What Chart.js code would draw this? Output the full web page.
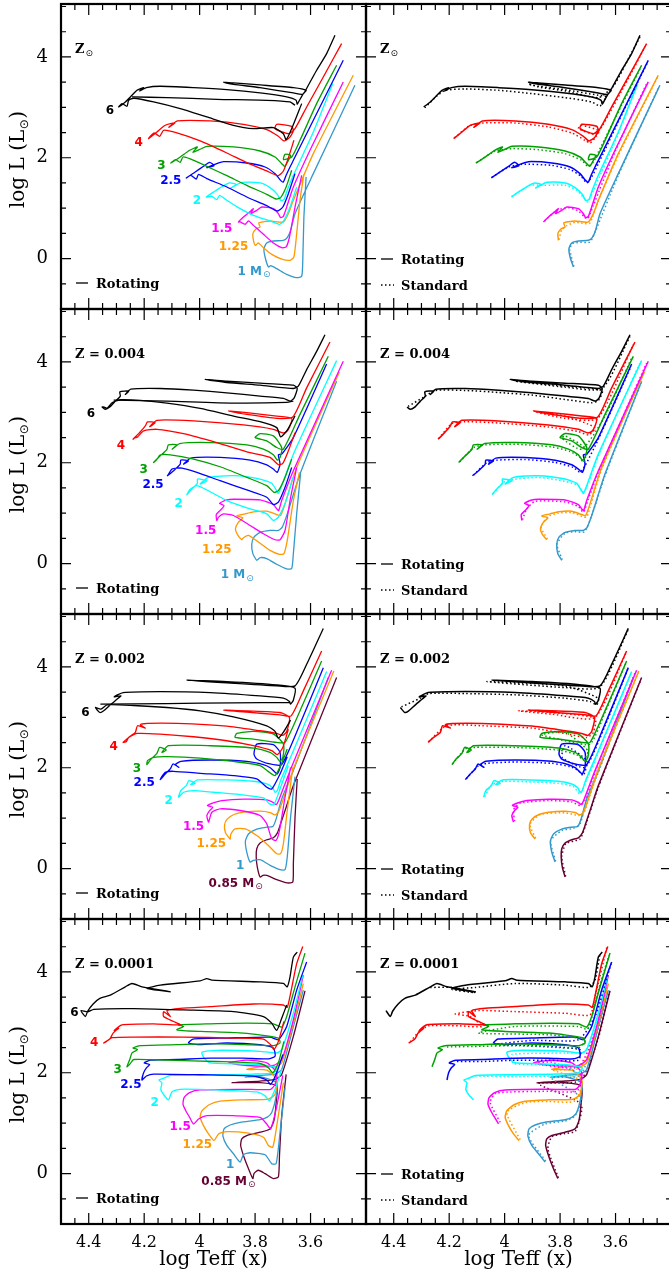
<!DOCTYPE html>
<html><head><meta charset="utf-8">
<script src="https://cdn.jsdelivr.net/npm/chart.js@4.4.1/dist/chart.umd.min.js"></script>
<style>
html,body{margin:0;padding:0;background:#fff;overflow:hidden;width:669px;height:1278px;position:relative}
canvas{position:absolute}
</style></head><body>
<script>
// ---------- axes ----------
const X_MIN = 3.4, X_MAX = 4.5, Y_MIN = -1, Y_MAX = 5.05;
const X_TICKS = [4.4, 4.2, 4.0, 3.8, 3.6];
const Y_TICKS = [0, 2, 4];
const MASSES = ['6', '4', '3', '2.5', '2', '1.5', '1.25', '1', '0.85'];
const COLORS = ['#000000', '#ff0000', '#00a000', '#0000ff', '#00ffff', '#ff00ff', '#ff9900', '#3399cc', '#660033'];
const Z_LABELS = ['Z', 'Z = 0.004', 'Z = 0.002', 'Z = 0.0001'];

// ---------- Z = Zsun ----------
const zsun_m6_pre = [[3.632,3.074],[3.668,2.578],[3.688,2.359],[3.698,2.478],[3.734,2.598],[3.806,2.578],[3.878,2.644],[3.974,2.809],[4.070,2.974],[4.166,3.107],[4.238,3.180],[4.256,3.140],[4.262,3.021],[4.280,3.074]];
const zsun_m6_mid = [[4.244,3.206],[4.118,3.193],[3.938,3.160],[3.758,3.140],[3.674,3.107],[3.656,3.041]];
const zsun_m6_rot = [[4.292,3.008],[4.268,3.107],[4.244,3.239],[4.226,3.338],[4.202,3.391],[4.216,3.325],[4.192,3.391],[4.142,3.418],[4.022,3.391],[3.902,3.351],[3.782,3.285],[3.686,3.206],[3.652,3.140],[3.648,3.060],[3.640,3.140],[3.626,3.272],[3.616,3.338],[3.662,3.391],[3.782,3.444],[3.878,3.484],[3.914,3.497],[3.878,3.457],[3.782,3.391],[3.662,3.285],[3.628,3.259],[3.608,3.438],[3.578,3.735],[3.542,4.066],[3.512,4.430]];
const zsun_m6_std = [[4.288,2.991],[4.244,3.226],[4.214,3.338],[4.142,3.365],[4.022,3.338],[3.902,3.272],[3.782,3.193],[3.686,3.107],[3.656,3.021],[3.648,3.107],[3.632,3.206],[3.662,3.239],[3.782,3.351],[3.902,3.437],[3.914,3.471],[3.878,3.404],[3.782,3.325],[3.662,3.193],[3.608,3.418],[3.566,3.834],[3.512,4.396]];
const zsun_m4_pre = [[3.660,2.346],[3.679,2.015],[3.698,1.738],[3.717,1.645],[3.758,1.738],[3.830,1.903],[3.902,2.095],[3.998,2.333],[4.082,2.492],[4.130,2.545],[4.144,2.426],[4.164,2.492],[4.180,2.412]];
const zsun_m4_rot = [[4.184,2.379],[4.154,2.511],[4.124,2.644],[4.090,2.690],[4.111,2.604],[4.080,2.730],[3.962,2.730],[3.842,2.664],[3.758,2.558],[3.716,2.426],[3.696,2.333],[3.676,2.399],[3.662,2.531],[3.668,2.624],[3.722,2.664],[3.728,2.578],[3.680,2.478],[3.656,2.578],[3.614,3.008],[3.554,3.603],[3.488,4.264]];
const zsun_m4_std = [[4.180,2.399],[4.130,2.624],[4.082,2.690],[3.962,2.690],[3.842,2.611],[3.758,2.492],[3.710,2.346],[3.692,2.293],[3.674,2.399],[3.660,2.531],[3.722,2.644],[3.734,2.578],[3.674,2.465],[3.650,2.611],[3.554,3.570],[3.494,4.198]];
const zsun_m3_pre = [[3.668,1.751],[3.688,1.420],[3.708,1.209],[3.724,1.182],[3.758,1.275],[3.830,1.453],[3.902,1.645],[3.974,1.830],[4.034,1.976],[4.060,2.015],[4.070,1.910],[4.087,1.962]];
const zsun_m3_rot = [[4.104,1.896],[4.070,2.015],[4.036,2.148],[4.008,2.214],[4.024,2.108],[3.996,2.174],[3.974,2.227],[3.878,2.214],[3.782,2.134],[3.728,2.015],[3.704,1.883],[3.693,1.830],[3.681,1.936],[3.672,2.048],[3.692,2.068],[3.698,1.962],[3.668,2.015],[3.638,2.346],[3.578,3.074],[3.506,3.835]];
const zsun_m3_std = [[4.100,1.910],[4.034,2.134],[3.974,2.181],[3.878,2.161],[3.782,2.082],[3.722,1.949],[3.700,1.830],[3.680,1.916],[3.662,2.115],[3.578,3.041],[3.508,3.801]];
const zsun_m25_pre = [[3.656,1.685],[3.680,1.288],[3.700,1.023],[3.720,0.944],[3.758,1.050],[3.830,1.222],[3.902,1.420],[3.974,1.586],[4.004,1.672],[4.012,1.579],[4.032,1.652]];
const zsun_m25_rot = [[4.048,1.599],[4.016,1.718],[3.986,1.830],[3.964,1.910],[3.948,1.843],[3.974,1.804],[3.938,1.883],[3.914,1.923],[3.830,1.896],[3.764,1.817],[3.728,1.685],[3.708,1.552],[3.698,1.520],[3.688,1.652],[3.674,1.817],[3.662,1.949],[3.590,2.743],[3.482,3.933]];
const zsun_m25_std = [[4.046,1.612],[3.986,1.817],[3.938,1.870],[3.830,1.850],[3.764,1.764],[3.724,1.632],[3.704,1.500],[3.686,1.619],[3.662,1.883],[3.590,2.710],[3.484,3.900]];
const zsun_m2_pre = [[3.650,1.420],[3.674,1.023],[3.696,0.759],[3.712,0.680],[3.746,0.746],[3.806,0.858],[3.854,0.990],[3.902,1.156],[3.928,1.255],[3.938,1.169],[3.956,1.235]];
const zsun_m2_rot = [[3.976,1.222],[3.944,1.341],[3.912,1.453],[3.892,1.500],[3.868,1.473],[3.888,1.400],[3.864,1.473],[3.848,1.513],[3.782,1.500],[3.746,1.407],[3.720,1.275],[3.708,1.156],[3.696,1.169],[3.684,1.354],[3.662,1.652],[3.590,2.511],[3.520,3.471]];
const zsun_m2_std = [[3.974,1.235],[3.908,1.453],[3.866,1.453],[3.782,1.453],[3.740,1.354],[3.715,1.208],[3.700,1.123],[3.680,1.354],[3.590,2.478],[3.524,3.437]];
const zsun_m15_pre = [[3.632,1.652],[3.656,1.023],[3.676,0.428],[3.688,0.230],[3.704,0.216],[3.734,0.309],[3.770,0.481],[3.806,0.659],[3.824,0.746],[3.836,0.680],[3.854,0.726]];
const zsun_m15_rot = [[3.860,0.726],[3.842,0.825],[3.820,0.924],[3.806,0.990],[3.816,0.891],[3.794,0.957],[3.776,1.023],[3.734,0.990],[3.716,0.891],[3.708,0.812],[3.698,0.838],[3.686,1.023],[3.662,1.420],[3.602,2.148],[3.482,3.504]];
const zsun_m15_std = [[3.856,0.746],[3.812,0.957],[3.770,1.010],[3.734,0.944],[3.712,0.825],[3.700,0.792],[3.680,1.056],[3.602,2.115],[3.488,3.471]];
const zsun_m125_pre = [[3.624,1.671],[3.638,1.156],[3.650,0.494],[3.660,0.031],[3.674,-0.035],[3.704,-0.009],[3.740,0.084],[3.770,0.216],[3.788,0.309],[3.799,0.263]];
const zsun_m125_rot = [[3.806,0.362],[3.808,0.494],[3.796,0.593],[3.782,0.626],[3.787,0.706],[3.768,0.732],[3.746,0.746],[3.716,0.726],[3.698,0.726],[3.680,0.891],[3.662,1.156],[3.590,2.082],[3.446,3.636]];
const zsun_m125_std = [[3.804,0.375],[3.794,0.574],[3.776,0.653],[3.746,0.719],[3.710,0.693],[3.692,0.706],[3.662,1.156],[3.590,2.049],[3.448,3.603]];
const zsun_m1_pre = [[3.616,1.619],[3.624,0.825],[3.628,-0.035],[3.632,-0.352],[3.650,-0.379],[3.686,-0.313],[3.722,-0.200],[3.744,-0.141]];
const zsun_m1_rot = [[3.752,-0.167],[3.764,0.031],[3.768,0.197],[3.758,0.309],[3.734,0.349],[3.698,0.362],[3.684,0.415],[3.672,0.560],[3.656,0.891],[3.590,1.685],[3.440,3.438]];
const zsun_m1_std = [[3.750,-0.154],[3.765,0.177],[3.756,0.296],[3.728,0.322],[3.692,0.329],[3.674,0.527],[3.590,1.652],[3.444,3.404]];

// ---------- Z = 0.004 ----------
const z004_m6_pre = [[3.656,2.927],[3.686,2.631],[3.708,2.513],[3.722,2.697],[3.782,2.815],[3.878,2.927],[3.998,3.079],[4.118,3.184],[4.214,3.237],[4.286,3.250],[4.316,3.190],[4.334,3.079],[4.344,3.105]];
const z004_m6_mid = [[4.310,3.243],[4.118,3.223],[3.878,3.184],[3.686,3.197],[3.662,3.223]];
const z004_m6_rot = [[4.352,3.105],[4.340,3.059],[4.324,3.105],[4.304,3.223],[4.286,3.322],[4.288,3.407],[4.256,3.421],[4.268,3.355],[4.248,3.460],[4.142,3.473],[4.022,3.440],[3.902,3.388],[3.782,3.322],[3.698,3.276],[3.674,3.223],[3.660,3.276],[3.648,3.473],[3.662,3.539],[3.782,3.579],[3.902,3.618],[3.980,3.651],[3.902,3.592],[3.782,3.539],[3.662,3.473],[3.644,3.519],[3.614,3.848],[3.578,4.210],[3.548,4.539]];
const z004_m6_std = [[4.348,3.118],[4.292,3.302],[4.250,3.434],[4.142,3.434],[4.022,3.394],[3.902,3.342],[3.782,3.256],[3.686,3.190],[3.662,3.236],[3.648,3.434],[3.782,3.519],[3.962,3.618],[3.782,3.500],[3.648,3.473],[3.548,4.506]];
const z004_m4_pre = [[3.656,2.598],[3.680,2.236],[3.700,1.987],[3.716,1.960],[3.746,2.105],[3.818,2.201],[3.938,2.401],[4.058,2.578],[4.154,2.664],[4.202,2.631],[4.224,2.513],[4.236,2.487]];
const z004_m4_rot = [[4.240,2.467],[4.220,2.578],[4.196,2.730],[4.188,2.809],[4.160,2.796],[4.180,2.717],[4.154,2.842],[4.022,2.829],[3.842,2.750],[3.734,2.664],[3.700,2.592],[3.686,2.618],[3.674,2.730],[3.668,2.881],[3.722,2.927],[3.830,2.993],[3.896,3.026],[3.830,2.960],[3.722,2.881],[3.664,2.907],[3.614,3.486],[3.530,4.394]];
const z004_m4_std = [[4.238,2.480],[4.190,2.776],[4.142,2.815],[4.022,2.789],[3.842,2.710],[3.734,2.618],[3.696,2.552],[3.674,2.697],[3.782,2.927],[3.890,3.013],[3.782,2.881],[3.664,2.881],[3.536,4.342]];
const z004_m3_pre = [[3.668,2.072],[3.692,1.710],[3.716,1.447],[3.732,1.414],[3.758,1.546],[3.830,1.710],[3.926,1.921],[4.022,2.072],[4.106,2.158],[4.142,2.158],[4.156,2.052]];
const z004_m3_rot = [[4.166,2.006],[4.142,2.138],[4.118,2.267],[4.113,2.355],[4.082,2.355],[4.099,2.270],[4.072,2.381],[3.962,2.401],[3.830,2.355],[3.770,2.270],[3.734,2.158],[3.720,2.052],[3.710,2.105],[3.704,2.302],[3.734,2.533],[3.782,2.579],[3.800,2.500],[3.758,2.434],[3.722,2.302],[3.698,2.269],[3.638,2.960],[3.536,4.111]];
const z004_m3_std = [[4.162,2.019],[4.112,2.302],[4.070,2.355],[3.962,2.368],[3.830,2.315],[3.764,2.223],[3.728,2.105],[3.716,2.006],[3.704,2.269],[3.782,2.533],[3.794,2.486],[3.722,2.269],[3.638,2.927],[3.542,4.079]];
const z004_m25_pre = [[3.668,1.907],[3.692,1.513],[3.716,1.217],[3.734,1.171],[3.758,1.316],[3.830,1.460],[3.926,1.644],[4.010,1.809],[4.064,1.894],[4.100,1.875],[4.112,1.776]];
const z004_m25_rot = [[4.116,1.743],[4.094,1.842],[4.070,1.973],[4.068,2.052],[4.040,2.039],[4.058,1.973],[4.032,2.092],[3.926,2.105],[3.818,2.052],[3.758,1.960],[3.734,1.875],[3.720,1.809],[3.710,1.973],[3.716,2.158],[3.704,2.171],[3.662,2.499],[3.542,3.960]];
const z004_m25_std = [[4.112,1.756],[4.064,2.006],[4.028,2.052],[3.926,2.065],[3.818,2.006],[3.752,1.907],[3.728,1.809],[3.710,1.940],[3.662,2.467],[3.544,3.914]];
const z004_m2_pre = [[3.664,1.710],[3.688,1.250],[3.716,0.921],[3.734,0.855],[3.758,0.987],[3.818,1.085],[3.902,1.250],[3.974,1.460],[4.010,1.546],[4.034,1.473]];
const z004_m2_rot = [[4.046,1.368],[4.028,1.480],[4.008,1.592],[4.008,1.677],[3.974,1.644],[3.998,1.579],[3.968,1.710],[3.878,1.743],[3.782,1.677],[3.740,1.592],[3.724,1.460],[3.716,1.394],[3.704,1.546],[3.662,2.171],[3.506,4.026]];
const z004_m2_std = [[4.042,1.381],[4.004,1.611],[3.968,1.670],[3.878,1.710],[3.782,1.631],[3.734,1.546],[3.720,1.414],[3.704,1.513],[3.662,2.138],[3.512,3.980]];
const z004_m15_pre = [[3.650,1.907],[3.674,1.250],[3.692,0.657],[3.710,0.473],[3.728,0.473],[3.770,0.592],[3.818,0.756],[3.878,0.954],[3.914,0.987],[3.932,0.921]];
const z004_m15_rot = [[3.938,0.855],[3.940,0.973],[3.924,1.065],[3.912,1.151],[3.928,1.197],[3.902,1.263],[3.878,1.276],[3.782,1.263],[3.734,1.171],[3.722,1.085],[3.715,1.052],[3.704,1.250],[3.662,1.842],[3.482,4.013]];
const z004_m15_std = [[3.936,0.868],[3.920,1.085],[3.890,1.236],[3.782,1.223],[3.734,1.131],[3.716,1.019],[3.700,1.250],[3.662,1.809],[3.488,3.980]];
const z004_m125_pre = [[3.640,1.809],[3.662,1.250],[3.684,0.460],[3.696,0.197],[3.712,0.184],[3.746,0.263],[3.788,0.427],[3.824,0.559],[3.842,0.513]];
const z004_m125_rot = [[3.848,0.473],[3.864,0.579],[3.871,0.690],[3.860,0.822],[3.844,0.907],[3.866,0.947],[3.836,0.986],[3.806,1.026],[3.758,1.039],[3.722,0.973],[3.708,0.954],[3.696,1.118],[3.650,1.908],[3.496,3.802]];
const z004_m125_std = [[3.846,0.486],[3.868,0.723],[3.844,0.934],[3.806,1.000],[3.758,1.013],[3.720,0.934],[3.704,0.921],[3.692,1.118],[3.650,1.875],[3.500,3.763]];
const z004_m1_pre = [[3.636,1.789],[3.650,0.986],[3.662,0.197],[3.668,-0.099],[3.686,-0.106],[3.722,-0.014],[3.758,0.098],[3.782,0.118]];
const z004_m1_rot = [[3.794,0.066],[3.808,0.197],[3.812,0.381],[3.804,0.526],[3.782,0.618],[3.746,0.658],[3.716,0.658],[3.702,0.723],[3.684,0.986],[3.638,1.776],[3.506,3.618]];
const z004_m1_std = [[3.792,0.079],[3.811,0.381],[3.782,0.605],[3.746,0.631],[3.712,0.631],[3.686,0.954],[3.638,1.743],[3.508,3.585]];

// ---------- Z = 0.002 ----------
const z002_m6_pre = [[3.672,2.945],[3.696,2.721],[3.716,2.589],[3.728,2.721],[3.758,2.833],[3.878,3.011],[3.998,3.129],[4.118,3.195],[4.238,3.235],[4.334,3.248],[4.356,3.162]];
const z002_m6_mid = [[4.358,3.261],[4.118,3.274],[3.878,3.288],[3.674,3.294]];
const z002_m6_rot = [[4.376,3.195],[4.360,3.096],[4.346,3.129],[4.322,3.248],[4.298,3.360],[4.284,3.426],[4.308,3.406],[4.276,3.492],[4.142,3.512],[3.962,3.492],[3.782,3.426],[3.698,3.380],[3.676,3.314],[3.672,3.261],[3.662,3.340],[3.656,3.578],[3.722,3.644],[3.902,3.709],[4.046,3.736],[3.902,3.683],[3.722,3.624],[3.656,3.624],[3.614,4.052],[3.554,4.764]];
const z002_m6_std = [[4.372,3.209],[4.304,3.380],[4.274,3.472],[4.142,3.472],[3.962,3.446],[3.782,3.380],[3.692,3.314],[3.668,3.248],[3.662,3.380],[3.782,3.624],[4.064,3.709],[3.782,3.591],[3.656,3.604],[3.554,4.744]];
const z002_m4_pre = [[3.680,2.767],[3.700,2.404],[3.720,2.259],[3.740,2.338],[3.806,2.437],[3.902,2.536],[4.022,2.615],[4.142,2.668],[4.226,2.681],[4.256,2.602],[4.264,2.523]];
const z002_m4_rot = [[4.276,2.503],[4.256,2.602],[4.232,2.701],[4.224,2.833],[4.196,2.787],[4.214,2.853],[4.188,2.879],[4.082,2.879],[3.902,2.826],[3.782,2.734],[3.722,2.681],[3.700,2.642],[3.686,2.721],[3.676,2.998],[3.710,3.096],[3.830,3.129],[3.914,3.143],[3.830,3.103],[3.710,3.050],[3.670,3.030],[3.626,3.525],[3.560,4.316]];
const z002_m4_std = [[4.274,2.516],[4.220,2.800],[4.184,2.853],[4.082,2.833],[3.902,2.787],[3.782,2.681],[3.704,2.602],[3.680,2.701],[3.674,2.984],[3.830,3.096],[3.950,3.129],[3.830,3.063],[3.674,2.998],[3.562,4.283]];
const z002_m3_pre = [[3.684,2.371],[3.708,2.042],[3.728,1.844],[3.744,1.890],[3.782,2.042],[3.878,2.127],[3.998,2.193],[4.118,2.220],[4.166,2.206],[4.188,2.141]];
const z002_m3_rot = [[4.190,2.061],[4.176,2.167],[4.154,2.286],[4.144,2.404],[4.120,2.352],[4.136,2.305],[4.112,2.437],[3.962,2.437],[3.806,2.391],[3.746,2.305],[3.722,2.206],[3.710,2.127],[3.700,2.206],[3.698,2.470],[3.734,2.668],[3.806,2.721],[3.866,2.681],[3.872,2.602],[3.806,2.569],[3.722,2.503],[3.692,2.503],[3.638,3.129],[3.560,4.118]];
const z002_m3_std = [[4.188,2.075],[4.142,2.371],[4.106,2.404],[3.962,2.404],[3.806,2.351],[3.740,2.259],[3.716,2.154],[3.700,2.338],[3.782,2.701],[3.866,2.655],[3.782,2.536],[3.692,2.470],[3.638,3.096],[3.562,4.085]];
const z002_m25_pre = [[3.684,2.220],[3.710,1.877],[3.740,1.580],[3.758,1.613],[3.794,1.778],[3.878,1.844],[3.998,1.890],[4.094,1.930],[4.124,1.910],[4.138,1.811]];
const z002_m25_rot = [[4.142,1.765],[4.124,1.877],[4.106,1.976],[4.096,2.075],[4.075,2.009],[4.088,2.061],[4.068,2.127],[3.962,2.154],[3.830,2.127],[3.770,2.061],[3.744,1.996],[3.728,1.910],[3.720,1.877],[3.710,2.009],[3.710,2.305],[3.734,2.457],[3.794,2.470],[3.804,2.272],[3.794,2.174],[3.746,2.075],[3.704,2.061],[3.638,2.866],[3.554,3.986]];
const z002_m25_std = [[4.138,1.785],[4.094,2.042],[4.064,2.088],[3.962,2.114],[3.830,2.088],[3.764,2.022],[3.734,1.943],[3.716,1.844],[3.704,2.141],[3.782,2.437],[3.792,2.206],[3.710,2.009],[3.638,2.833],[3.556,3.953]];
const z002_m2_pre = [[3.680,2.042],[3.708,1.613],[3.732,1.270],[3.748,1.284],[3.770,1.402],[3.854,1.468],[3.950,1.514],[4.022,1.547],[4.058,1.514]];
const z002_m2_rot = [[4.076,1.415],[4.068,1.547],[4.048,1.646],[4.039,1.745],[4.016,1.692],[4.032,1.666],[4.008,1.758],[3.902,1.758],[3.806,1.732],[3.758,1.679],[3.736,1.600],[3.728,1.514],[3.720,1.547],[3.708,1.745],[3.662,2.338],[3.542,3.907]];
const z002_m2_std = [[4.072,1.429],[4.046,1.666],[4.004,1.732],[3.902,1.719],[3.806,1.692],[3.752,1.626],[3.728,1.481],[3.708,1.712],[3.662,2.305],[3.544,3.868]];
const z002_m15_pre = [[3.672,2.009],[3.692,1.415],[3.712,0.756],[3.724,0.559],[3.740,0.591],[3.758,0.888],[3.782,1.053],[3.854,1.152],[3.926,1.185],[3.956,1.119],[3.964,0.987]];
const z002_m15_rot = [[3.968,0.921],[3.974,1.053],[3.964,1.152],[3.952,1.218],[3.972,1.251],[3.948,1.310],[3.920,1.350],[3.842,1.376],[3.758,1.363],[3.734,1.310],[3.724,1.270],[3.715,1.350],[3.674,1.943],[3.524,3.934]];
const z002_m15_std = [[3.964,0.941],[3.968,1.165],[3.944,1.297],[3.842,1.350],[3.758,1.323],[3.728,1.251],[3.710,1.350],[3.674,1.910],[3.528,3.907]];
const z002_m125_pre = [[3.664,2.009],[3.684,1.152],[3.698,0.493],[3.708,0.295],[3.722,0.295],[3.752,0.460],[3.794,0.657],[3.836,0.789],[3.872,0.789],[3.888,0.677]];
const z002_m125_rot = [[3.890,0.585],[3.907,0.717],[3.910,0.875],[3.900,0.987],[3.876,1.073],[3.842,1.119],[3.782,1.139],[3.746,1.112],[3.728,1.066],[3.716,1.119],[3.700,1.350],[3.662,1.976],[3.516,3.920]];
const z002_m125_std = [[3.888,0.605],[3.909,0.875],[3.872,1.073],[3.782,1.106],[3.734,1.053],[3.716,1.086],[3.700,1.317],[3.662,1.943],[3.518,3.888]];
const z002_m1_pre = [[3.656,1.824],[3.672,1.020],[3.684,0.229],[3.692,-0.022],[3.710,-0.022],[3.746,0.064],[3.782,0.176],[3.806,0.163]];
const z002_m1_rot = [[3.818,0.130],[3.830,0.328],[3.835,0.545],[3.823,0.690],[3.794,0.783],[3.758,0.822],[3.736,0.836],[3.724,0.987],[3.704,1.382],[3.662,1.943],[3.536,3.789]];
const z002_m1_std = [[3.816,0.150],[3.834,0.545],[3.794,0.756],[3.752,0.796],[3.728,0.888],[3.704,1.350],[3.662,1.910],[3.538,3.756]];
const z002_m085_pre = [[3.648,1.778],[3.656,1.020],[3.662,0.097],[3.664,-0.266],[3.684,-0.285],[3.722,-0.219],[3.758,-0.134],[3.772,-0.134]];
const z002_m085_rot = [[3.782,-0.167],[3.792,0.031],[3.796,0.229],[3.794,0.394],[3.782,0.506],[3.758,0.572],[3.734,0.611],[3.720,0.704],[3.708,0.888],[3.688,1.218],[3.662,1.646],[3.506,3.789]];
const z002_m085_std = [[3.780,-0.153],[3.794,0.229],[3.780,0.493],[3.752,0.545],[3.728,0.585],[3.708,0.855],[3.662,1.613],[3.508,3.756]];

// ---------- Z = 0.0001 ----------
const z0001_m6_pre = [[3.686,3.344],[3.704,3.082],[3.722,2.839],[3.740,2.984],[3.770,3.115],[3.878,3.213],[4.058,3.246],[4.238,3.272],[4.382,3.259],[4.404,3.207]];
const z0001_m6_rot = [[4.428,3.233],[4.412,3.115],[4.404,3.220],[4.384,3.364],[4.360,3.476],[4.322,3.541],[4.268,3.705],[4.244,3.771],[4.208,3.705],[4.106,3.607],[4.190,3.672],[4.142,3.738],[3.998,3.823],[3.974,3.869],[3.956,3.836],[3.782,3.803],[3.698,3.771],[3.684,3.705],[3.674,3.902],[3.662,4.295],[3.648,4.394]];
const z0001_m6_std = [[4.268,3.692],[4.190,3.692],[4.106,3.587],[4.190,3.653],[4.106,3.692],[3.962,3.771],[3.782,3.738],[3.696,3.692],[3.674,3.836],[3.656,4.361]];
const z0001_m4_pre = [[3.696,3.017],[3.716,2.623],[3.732,2.459],[3.744,2.558],[3.770,2.669],[3.878,2.689],[4.058,2.708],[4.238,2.708],[4.316,2.695],[4.336,2.623]];
const z0001_m4_rot = [[4.346,2.590],[4.324,2.669],[4.312,2.787],[4.292,2.885],[4.308,2.839],[4.280,2.951],[4.166,2.971],[4.070,2.951],[4.094,3.017],[4.130,3.115],[4.130,3.213],[4.106,3.115],[4.118,3.233],[4.070,3.279],[3.962,3.312],[3.806,3.364],[3.698,3.344],[3.684,3.298],[3.672,3.574],[3.650,4.164],[3.628,4.505]];
const z0001_m4_std = [[4.340,2.617],[4.308,2.820],[4.274,2.931],[4.166,2.931],[4.082,2.918],[4.124,3.115],[4.178,3.167],[4.094,3.233],[3.962,3.213],[3.782,3.180],[3.692,3.148],[3.674,3.508],[3.632,4.479]];
const z0001_m3_pre = [[3.696,2.623],[3.716,2.197],[3.736,2.000],[3.752,2.099],[3.782,2.184],[3.938,2.223],[4.118,2.249],[4.238,2.263],[4.250,2.184]];
const z0001_m3_rot = [[4.262,2.118],[4.252,2.262],[4.244,2.394],[4.224,2.459],[4.240,2.492],[4.214,2.538],[4.082,2.558],[3.962,2.577],[3.842,2.558],[3.734,2.538],[3.710,2.590],[3.716,2.689],[3.842,2.787],[3.998,2.820],[4.082,2.853],[4.058,2.918],[4.076,2.951],[3.962,2.971],[3.830,2.984],[3.734,2.971],[3.704,2.905],[3.686,3.115],[3.656,3.705],[3.620,4.374]];
const z0001_m3_std = [[4.208,2.512],[4.082,2.525],[3.962,2.538],[3.842,2.512],[3.734,2.492],[3.710,2.656],[3.842,2.754],[4.094,2.787],[3.962,2.918],[3.734,2.918],[3.700,2.866],[3.662,3.639],[3.624,4.328]];
const z0001_m25_pre = [[3.700,2.361],[3.722,2.000],[3.744,1.771],[3.758,1.856],[3.806,1.935],[3.998,1.961],[4.166,1.974],[4.192,1.935]];
const z0001_m25_rot = [[4.208,1.856],[4.202,2.000],[4.192,2.099],[4.180,2.164],[4.200,2.197],[4.176,2.249],[4.082,2.263],[3.962,2.289],[3.842,2.289],[3.752,2.276],[3.728,2.328],[3.734,2.492],[3.782,2.558],[3.902,2.590],[3.998,2.558],[4.040,2.590],[4.024,2.669],[3.902,2.689],[3.746,2.708],[3.716,2.656],[3.686,2.918],[3.650,3.640],[3.614,4.197]];
const z0001_m25_std = [[4.172,2.223],[4.082,2.223],[3.962,2.249],[3.842,2.249],[3.734,2.249],[3.728,2.459],[3.902,2.538],[4.034,2.558],[3.902,2.643],[3.734,2.656],[3.674,3.115],[3.616,4.164]];
const z0001_m2_pre = [[3.704,2.066],[3.728,1.672],[3.748,1.443],[3.764,1.541],[3.794,1.620],[3.938,1.659],[4.070,1.672],[4.100,1.620]];
const z0001_m2_rot = [[4.112,1.463],[4.128,1.554],[4.140,1.672],[4.136,1.803],[4.147,1.856],[4.128,1.895],[4.106,1.948],[3.962,1.961],[3.806,1.974],[3.734,2.000],[3.720,2.099],[3.782,2.164],[3.962,2.197],[3.984,2.295],[3.992,2.407],[3.938,2.446],[3.782,2.426],[3.722,2.394],[3.704,2.459],[3.662,3.181],[3.628,3.935]];
const z0001_m2_std = [[4.106,1.935],[3.962,1.922],[3.806,1.935],[3.734,1.961],[3.782,2.131],[3.968,2.184],[3.974,2.361],[3.782,2.394],[3.710,2.426],[3.662,3.148],[3.632,3.902]];
const z0001_m15_pre = [[3.700,1.948],[3.724,1.279],[3.744,0.886],[3.758,0.984],[3.782,1.115],[3.878,1.148],[3.974,1.148],[4.004,1.082]];
const z0001_m15_rot = [[4.022,0.984],[4.036,1.115],[4.050,1.246],[4.060,1.377],[4.056,1.508],[4.036,1.607],[3.998,1.659],[3.842,1.672],[3.744,1.672],[3.728,1.771],[3.722,2.000],[3.758,2.197],[3.830,2.249],[3.896,2.197],[3.830,2.144],[3.734,2.144],[3.704,2.263],[3.662,3.049],[3.626,3.935]];
const z0001_m15_std = [[4.016,1.017],[4.052,1.410],[4.032,1.594],[3.842,1.633],[3.740,1.633],[3.722,1.935],[3.830,2.210],[3.890,2.184],[3.734,2.118],[3.662,3.017],[3.628,3.902]];
const z0001_m125_pre = [[3.698,1.803],[3.720,1.017],[3.736,0.525],[3.752,0.558],[3.770,0.722],[3.830,0.807],[3.902,0.833],[3.932,0.787]];
const z0001_m125_rot = [[3.948,0.656],[3.968,0.787],[3.986,0.951],[3.998,1.115],[3.992,1.246],[3.964,1.371],[3.926,1.436],[3.842,1.463],[3.752,1.476],[3.728,1.574],[3.722,1.869],[3.758,2.053],[3.830,2.066],[3.782,2.118],[3.728,2.118],[3.704,2.197],[3.662,2.984],[3.626,3.771]];
const z0001_m125_std = [[3.944,0.676],[3.992,1.213],[3.924,1.410],[3.842,1.430],[3.748,1.436],[3.722,1.836],[3.824,2.053],[3.728,2.099],[3.662,2.951],[3.628,3.738]];
const z0001_m1_pre = [[3.692,1.705],[3.710,0.820],[3.724,0.197],[3.740,0.197],[3.764,0.374],[3.818,0.413],[3.842,0.374]];
const z0001_m1_rot = [[3.854,0.230],[3.878,0.394],[3.902,0.558],[3.916,0.741],[3.912,0.886],[3.890,0.964],[3.854,1.017],[3.782,1.069],[3.756,1.121],[3.740,1.213],[3.724,1.541],[3.722,1.803],[3.782,1.922],[3.836,1.915],[3.782,1.948],[3.728,1.974],[3.704,2.066],[3.662,2.918],[3.626,3.640]];
const z0001_m1_std = [[3.852,0.250],[3.914,0.754],[3.854,0.984],[3.782,1.043],[3.746,1.148],[3.724,1.508],[3.830,1.895],[3.728,1.948],[3.662,2.885],[3.628,3.607]];
const z0001_m085_pre = [[3.688,1.967],[3.704,1.148],[3.712,0.361],[3.716,-0.065],[3.734,-0.098],[3.764,0.000],[3.788,0.066],[3.804,0.000]];
const z0001_m085_rot = [[3.808,-0.098],[3.823,0.086],[3.840,0.328],[3.852,0.558],[3.848,0.689],[3.830,0.754],[3.782,0.820],[3.746,0.886],[3.732,1.049],[3.724,1.410],[3.722,1.738],[3.782,1.803],[3.884,1.803],[3.782,1.836],[3.728,1.869],[3.704,1.967],[3.662,2.721],[3.620,3.626]];
const z0001_m085_std = [[3.806,-0.085],[3.844,0.492],[3.830,0.728],[3.782,0.794],[3.744,0.846],[3.724,1.377],[3.878,1.784],[3.728,1.843],[3.662,2.689],[3.624,3.587]];

// ---------- mass labels (text, logTeff, logL, has M-sun subscript) ----------
const LABELS_ZSUN = [['6',4.324,2.922],['4',4.220,2.293],['3',4.138,1.830],['2.5',4.104,1.533],['2',4.010,1.142],['1.5',3.920,0.593],['1.25',3.878,0.230],['1 M',3.804,-0.266,1]];
const LABELS_Z004 = [['6',4.392,2.960],['4',4.284,2.335],['3',4.202,1.855],['2.5',4.168,1.559],['2',4.076,1.184],['1.5',3.978,0.644],['1.25',3.938,0.276],['1 M',3.864,-0.231,1]];
const LABELS_Z002 = [['6',4.412,3.096],['4',4.310,2.417],['3',4.226,1.976],['2.5',4.200,1.692],['2',4.112,1.336],['1.5',4.022,0.822],['1.25',3.958,0.493],['1',3.854,0.044],['0.85 M',3.870,-0.299,1]];
const LABELS_Z0001 = [['6',4.452,3.180],['4',4.380,2.590],['3',4.296,2.053],['2.5',4.248,1.751],['2',4.162,1.410],['1.5',4.070,0.918],['1.25',4.008,0.571],['1',3.890,0.164],['0.85 M',3.896,-0.164,1]];

// ---------- assemble ----------
function T(m, pre, rot, std, mid) { return {m, pre, rot, std, mid}; }
const ROWS = [
  {labels: LABELS_ZSUN, tracks: [
    T(0, zsun_m6_pre, zsun_m6_rot, zsun_m6_std, zsun_m6_mid), T(1, zsun_m4_pre, zsun_m4_rot, zsun_m4_std),
    T(2, zsun_m3_pre, zsun_m3_rot, zsun_m3_std), T(3, zsun_m25_pre, zsun_m25_rot, zsun_m25_std),
    T(4, zsun_m2_pre, zsun_m2_rot, zsun_m2_std), T(5, zsun_m15_pre, zsun_m15_rot, zsun_m15_std),
    T(6, zsun_m125_pre, zsun_m125_rot, zsun_m125_std), T(7, zsun_m1_pre, zsun_m1_rot, zsun_m1_std)]},
  {labels: LABELS_Z004, tracks: [
    T(0, z004_m6_pre, z004_m6_rot, z004_m6_std, z004_m6_mid), T(1, z004_m4_pre, z004_m4_rot, z004_m4_std),
    T(2, z004_m3_pre, z004_m3_rot, z004_m3_std), T(3, z004_m25_pre, z004_m25_rot, z004_m25_std),
    T(4, z004_m2_pre, z004_m2_rot, z004_m2_std), T(5, z004_m15_pre, z004_m15_rot, z004_m15_std),
    T(6, z004_m125_pre, z004_m125_rot, z004_m125_std), T(7, z004_m1_pre, z004_m1_rot, z004_m1_std)]},
  {labels: LABELS_Z002, tracks: [
    T(0, z002_m6_pre, z002_m6_rot, z002_m6_std, z002_m6_mid), T(1, z002_m4_pre, z002_m4_rot, z002_m4_std),
    T(2, z002_m3_pre, z002_m3_rot, z002_m3_std), T(3, z002_m25_pre, z002_m25_rot, z002_m25_std),
    T(4, z002_m2_pre, z002_m2_rot, z002_m2_std), T(5, z002_m15_pre, z002_m15_rot, z002_m15_std),
    T(6, z002_m125_pre, z002_m125_rot, z002_m125_std), T(7, z002_m1_pre, z002_m1_rot, z002_m1_std),
    T(8, z002_m085_pre, z002_m085_rot, z002_m085_std)]},
  {labels: LABELS_Z0001, tracks: [
    T(0, z0001_m6_pre, z0001_m6_rot, z0001_m6_std), T(1, z0001_m4_pre, z0001_m4_rot, z0001_m4_std),
    T(2, z0001_m3_pre, z0001_m3_rot, z0001_m3_std), T(3, z0001_m25_pre, z0001_m25_rot, z0001_m25_std),
    T(4, z0001_m2_pre, z0001_m2_rot, z0001_m2_std), T(5, z0001_m15_pre, z0001_m15_rot, z0001_m15_std),
    T(6, z0001_m125_pre, z0001_m125_rot, z0001_m125_std), T(7, z0001_m1_pre, z0001_m1_rot, z0001_m1_std),
    T(8, z0001_m085_pre, z0001_m085_rot, z0001_m085_std)]}
];

const pts = a => a.map(p => ({x: p[0], y: p[1]}));
function line(data, color, width, dash) {
  return {data: pts(data), showLine: true, pointRadius: 0, borderColor: color, backgroundColor: color,
          borderWidth: width, borderDash: dash || [], fill: false, tension: 0.2};
}

const SERIF = '"DejaVu Serif", "Liberation Serif", serif';
const SANS = '"DejaVu Sans", "Liberation Sans", sans-serif';

function drawSubText(ctx, main, mainFont, x, y, align) {
  ctx.font = mainFont; const w1 = ctx.measureText(main).width;
  const subFont = '9px ' + SANS; ctx.font = subFont; const w2 = ctx.measureText('\u2299').width;
  const x0 = align === 'center' ? x - (w1 + w2 + 1) / 2 : x;
  ctx.textAlign = 'left';
  ctx.font = mainFont; ctx.fillText(main, x0, y);
  ctx.font = subFont; ctx.fillText('\u2299', x0 + w1 + 1, y + 3);
}

const panelPlugin = {
  id: 'panel',
  afterDraw(chart, args, o) {
    const {ctx, chartArea: a} = chart;
    const xs = chart.scales.x, ys = chart.scales.y;
    const r = o.row, c = o.col;
    ctx.save();
    ctx.strokeStyle = '#000'; ctx.fillStyle = '#000';
    ctx.lineWidth = 1.2; ctx.beginPath();
    for (let i = 68; i <= 90; i++) {
      const px = xs.getPixelForValue(i * 0.05); const L = (i % 4 === 0) ? 11 : 6;
      ctx.moveTo(px, a.top); ctx.lineTo(px, a.top + L);
      ctx.moveTo(px, a.bottom); ctx.lineTo(px, a.bottom - L);
    }
    for (let j = -2; j <= 10; j++) {
      const py = ys.getPixelForValue(j * 0.5); const L = (j % 4 === 0) ? 10 : 5;
      ctx.moveTo(a.left, py); ctx.lineTo(a.left + L, py);
      ctx.moveTo(a.right, py); ctx.lineTo(a.right - L, py);
    }
    ctx.stroke();
    ctx.lineWidth = 2.2;
    ctx.strokeRect(a.left, a.top, a.right - a.left, a.bottom - a.top);

    ctx.textBaseline = 'alphabetic';
    const zf = 'bold 13px ' + SERIF;
    if (r === 0) drawSubText(ctx, 'Z', zf, a.left + 14, a.top + 49, 'left');
    else { ctx.font = zf; ctx.textAlign = 'left'; ctx.fillText(Z_LABELS[r], a.left + 14, a.top + 49); }

    ctx.font = 'bold 13px ' + SERIF; ctx.textAlign = 'left'; ctx.lineWidth = 1.3;
    if (c === 0) {
      ctx.beginPath(); ctx.moveTo(a.left + 15, a.top + 279); ctx.lineTo(a.left + 27, a.top + 279); ctx.stroke();
      ctx.fillText('Rotating', a.left + 35, a.top + 284);
    } else {
      ctx.beginPath(); ctx.moveTo(a.left + 15, a.top + 255); ctx.lineTo(a.left + 27, a.top + 255); ctx.stroke();
      ctx.fillText('Rotating', a.left + 35, a.top + 260);
      ctx.setLineDash([1.5, 2.5]);
      ctx.beginPath(); ctx.moveTo(a.left + 15, a.top + 281); ctx.lineTo(a.left + 28, a.top + 281); ctx.stroke();
      ctx.setLineDash([]);
      ctx.fillText('Standard', a.left + 35, a.top + 286);
    }

    if (c === 0) {
      const lf = 'bold 12px ' + SANS;
      ROWS[r].labels.forEach((L, k) => {
        const px = xs.getPixelForValue(L[1]), py = ys.getPixelForValue(L[2]);
        ctx.fillStyle = COLORS[k];
        ctx.textBaseline = 'middle';
        if (L[3]) drawSubText(ctx, L[0], lf, px, py, 'center');
        else { ctx.font = lf; ctx.textAlign = 'center'; ctx.fillText(L[0], px, py); }
      });
      ctx.fillStyle = '#000'; ctx.textBaseline = 'alphabetic';
      ctx.save();
      ctx.translate(24, (a.top + a.bottom) / 2 + 3); ctx.rotate(-Math.PI / 2);
      const f1 = '20px ' + SERIF, f2 = '12px ' + SANS;
      ctx.font = f1; const w1 = ctx.measureText('log L (L').width, w3 = ctx.measureText(')').width;
      ctx.font = f2; const w2 = ctx.measureText('\u2299').width + 1;
      const x0 = -(w1 + w2 + w3) / 2; ctx.textAlign = 'left';
      ctx.font = f1; ctx.fillText('log L (L', x0, 0);
      ctx.font = f2; ctx.fillText('\u2299', x0 + w1 + 0.5, 4);
      ctx.font = f1; ctx.fillText(')', x0 + w1 + w2, 0);
      ctx.restore();
    }
    ctx.restore();
  }
};

function makeChart(r, c) {
  const panelTop = 4 + 305 * r, panelLeft = c === 0 ? 61 : 366;
  const bottomRow = r === 3;
  const padT = 6, padR = 6, padB = bottomRow ? 0 : 6;
  const xAxisH = bottomRow ? 50 : 0;
  const canvasLeft = c === 0 ? 0 : panelLeft - 6;
  const canvasTop = panelTop - padT;
  const W = (panelLeft - canvasLeft) + 305 + padR;
  const H = padT + 305 + xAxisH + padB;
  const cv = document.createElement('canvas');
  cv.width = W; cv.height = H;
  cv.style.left = canvasLeft + 'px'; cv.style.top = canvasTop + 'px';
  cv.style.width = W + 'px'; cv.style.height = H + 'px';
  document.body.appendChild(cv);

  const datasets = [];
  ROWS[r].tracks.forEach(t => {
    const col = COLORS[t.m];
    if (c === 0) {
      if (t.mid) datasets.push(line(t.mid, col, 1.3));
      datasets.push(line(t.pre.concat(t.rot), col, 1.3));
    } else {
      datasets.push(line(t.std, col, 1.5, [1.5, 2.5]));
      datasets.push(line(t.rot, col, 1.5));
    }
  });

  new Chart(cv, {
    type: 'scatter',
    data: {datasets},
    options: {
      responsive: false, animation: false, devicePixelRatio: 1, events: [],
      layout: {padding: {left: c === 0 ? 0 : 6, right: padR, top: padT, bottom: padB}},
      plugins: {legend: {display: false}, tooltip: {enabled: false}, panel: {row: r, col: c}},
      scales: {
        x: {type: 'linear', reverse: true, min: X_MIN, max: X_MAX, display: bottomRow,
            afterBuildTicks: s => { s.ticks = X_TICKS.map(v => ({value: v})); },
            afterFit: s => { s.height = xAxisH; s.paddingLeft = 0; s.paddingRight = 0; s.paddingTop = 0; s.paddingBottom = 0; },
            grid: {display: false, drawTicks: false}, border: {display: false},
            ticks: {padding: 9, color: '#000', autoSkip: false, maxRotation: 0,
                    font: {family: SERIF, size: 16},
                    callback: v => (Math.abs(v - 4) < 1e-9 ? '4' : Number(v).toFixed(1))},
            title: {display: true, text: 'log Teff (x)', color: '#000',
                    font: {family: SERIF, size: 20}, padding: {top: 0, bottom: 2}}},
        y: {type: 'linear', min: Y_MIN, max: Y_MAX, display: c === 0,
            afterBuildTicks: s => { s.ticks = Y_TICKS.map(v => ({value: v})); },
            afterFit: s => { s.width = c === 0 ? 61 : 0; s.paddingTop = 0; s.paddingBottom = 0; s.paddingLeft = 0; s.paddingRight = 0; },
            grid: {display: false, drawTicks: false}, border: {display: false},
            ticks: {padding: 13, color: '#000', autoSkip: false,
                    font: {family: SERIF, size: 18}, callback: v => String(v)}}
      }
    },
    plugins: [panelPlugin]
  });
}

for (let r = 0; r < 4; r++) for (let c = 0; c < 2; c++) makeChart(r, c);
</script>
</body></html>
